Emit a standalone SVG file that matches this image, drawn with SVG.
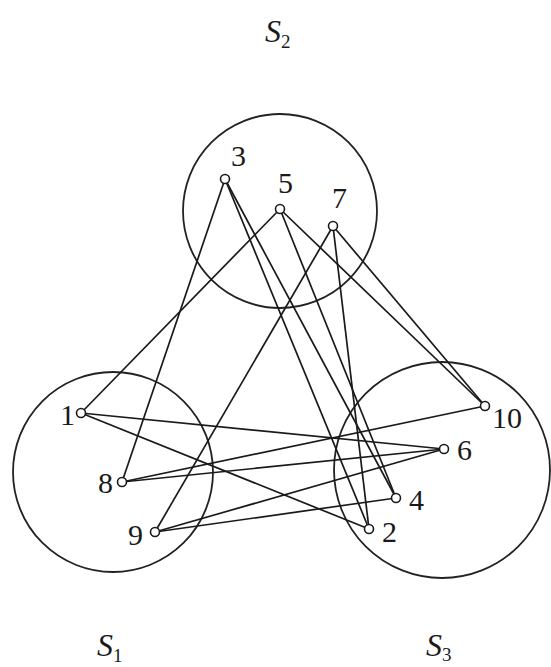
<svg xmlns="http://www.w3.org/2000/svg" width="551" height="667" viewBox="0 0 551 667">
<style>
.set{fill:none;stroke:#222;stroke-width:1.8}
.e{stroke:#1a1a1a;stroke-width:1.7;fill:none}
.v{fill:#fff;stroke:#1a1a1a;stroke-width:1.6}
.lb{font-family:"Liberation Serif","DejaVu Serif",serif;font-size:30px;fill:#1a1a1a}
.sl{font-family:"Liberation Serif","DejaVu Serif",serif;font-style:italic;font-size:32px;fill:#1a1a1a}
.sub{font-family:"Liberation Serif","DejaVu Serif",serif;font-size:19px;font-style:normal}
</style>
<rect width="551" height="667" fill="#fff"/>
<g id="sets">
<circle id="S2-circle" class="set" cx="280" cy="211" r="97"/>
<circle id="S1-circle" class="set" cx="113" cy="472" r="100"/>
<circle id="S3-circle" class="set" cx="442" cy="470" r="108"/>
</g>
<g id="connectors">
<line class="e" x1="225" y1="179" x2="122" y2="482"/>
<line class="e" x1="225" y1="179" x2="396" y2="498"/>
<line class="e" x1="225" y1="179" x2="369" y2="529"/>
<line class="e" x1="280" y1="209" x2="81" y2="413"/>
<line class="e" x1="280" y1="209" x2="396" y2="498"/>
<line class="e" x1="280" y1="209" x2="485" y2="406"/>
<line class="e" x1="333" y1="226" x2="155" y2="532"/>
<line class="e" x1="333" y1="226" x2="369" y2="529"/>
<line class="e" x1="333" y1="226" x2="485" y2="406"/>
<line class="e" x1="81" y1="413" x2="444" y2="449"/>
<line class="e" x1="81" y1="413" x2="369" y2="529"/>
<line class="e" x1="122" y1="482" x2="485" y2="406"/>
<line class="e" x1="122" y1="482" x2="444" y2="449"/>
<line class="e" x1="155" y1="532" x2="444" y2="449"/>
<line class="e" x1="155" y1="532" x2="396" y2="498"/>
</g>
<g id="n1"><circle class="v" cx="81" cy="413" r="4.5"/><text class="lb" x="75" y="425" text-anchor="end">1</text></g>
<g id="n2"><circle class="v" cx="369" cy="529" r="4.5"/><text class="lb" x="382" y="542">2</text></g>
<g id="n3"><circle class="v" cx="225" cy="179" r="4.5"/><text class="lb" x="231" y="166">3</text></g>
<g id="n4"><circle class="v" cx="396" cy="498" r="4.5"/><text class="lb" x="409" y="510">4</text></g>
<g id="n5"><circle class="v" cx="280" cy="209" r="4.5"/><text class="lb" x="278" y="193">5</text></g>
<g id="n6"><circle class="v" cx="444" cy="449" r="4.5"/><text class="lb" x="457" y="460">6</text></g>
<g id="n7"><circle class="v" cx="333" cy="226" r="4.5"/><text class="lb" x="332" y="208">7</text></g>
<g id="n8"><circle class="v" cx="122" cy="482" r="4.5"/><text class="lb" x="113" y="493" text-anchor="end">8</text></g>
<g id="n9"><circle class="v" cx="155" cy="532" r="4.5"/><text class="lb" x="143" y="545" text-anchor="end">9</text></g>
<g id="n10"><circle class="v" cx="485" cy="406" r="4.5"/><text class="lb" x="492" y="428">10</text></g>
<g id="labels">
<text class="sl" x="265" y="42">S<tspan class="sub" dy="6">2</tspan></text>
<text class="sl" x="97" y="656">S<tspan class="sub" dy="6">1</tspan></text>
<text class="sl" x="426" y="656">S<tspan class="sub" dy="5">3</tspan></text>
</g>
</svg>
